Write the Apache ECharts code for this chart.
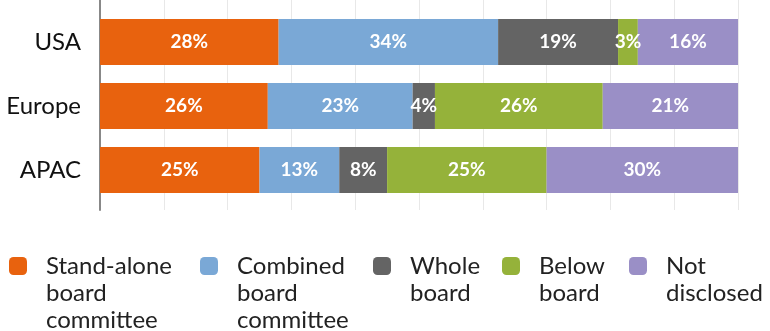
<!DOCTYPE html>
<html>
<head>
<meta charset="utf-8">
<script src="https://cdn.jsdelivr.net/npm/echarts@6/dist/echarts.min.js"></script>
<style>html,body{margin:0;padding:0;background:#fff}#c{width:770px;height:331px}</style>
</head>
<body>
<div id="c"></div>
<script>
var categories = ['USA', 'Europe', 'APAC'];
var seriesNames = ['Stand-alone\nboard\ncommittee', 'Combined\nboard\ncommittee', 'Whole\nboard', 'Below\nboard', 'Not\ndisclosed'];
var standAlone = [28, 26.3, 25];
var combined = [34.4, 22.7, 12.5];
var whole = [18.8, 3.5, 7.5];
var below = [3.1, 26.3, 25];
var notDisclosed = [15.7, 21.2, 30];
var colors = ['#E8620E', '#7AA8D6', '#646464', '#95B23A', '#9A8FC6'];

var FONT = 'Lato';
var LH = 27;
var allData = [standAlone, combined, whole, below, notDisclosed];

var series = allData.map(function (d, i) {
  return {
    name: seriesNames[i],
    type: 'bar',
    stack: 'total',
    xAxisIndex: 0,
    yAxisIndex: 0,
    barWidth: 46,
    data: d,
    itemStyle: { color: colors[i] },
    label: {
      show: true,
      position: 'inside',
      color: '#fff',
      fontFamily: FONT,
      fontWeight: 'bold',
      fontSize: 19,
      formatter: function (p) { return Math.round(p.value) + '%'; }
    }
  };
});

var legendLeft = [9, 200, 373, 502, 629];
var legends = seriesNames.map(function (n, i) {
  var parts = n.split('\n');
  var lines = parts.length;
  var total = 2 * lines - 1;
  return {
    data: [{ name: n, icon: 'roundRect' }],
    left: legendLeft[i],
    top: 266 - total * LH / 2,
    padding: 0,
    itemWidth: 18,
    itemHeight: 18,
    itemGap: 19,
    selectedMode: false,
    formatter: function () {
      return new Array(lines).join('\n') + parts.map(function (p) { return '{t|' + p + '}'; }).join('\n');
    },
    textStyle: {
      fontFamily: FONT,
      fontSize: 24,
      lineHeight: LH,
      color: '#222',
      rich: {
        t: { fontFamily: FONT, fontSize: 24, lineHeight: LH, color: '#222', padding: [0, 0, 0, 14] }
      }
    }
  };
});

var chart = echarts.init(document.getElementById('c'), null, { renderer: 'canvas' });
chart.setOption({
  animation: false,
  color: colors,
  legend: legends,
  grid: [
    { left: 100, right: 32, top: 10, height: 192 },
    { left: 100, right: 32, top: 0, height: 210 }
  ],
  xAxis: [
    { gridIndex: 0, type: 'value', min: 0, max: 100, show: false },
    { gridIndex: 1, type: 'value', min: 0, max: 100, interval: 10,
      axisLine: { show: false }, axisTick: { show: false }, axisLabel: { show: false },
      splitLine: { show: true, lineStyle: { color: '#e8e8e8', width: 1 } } }
  ],
  yAxis: [
    { gridIndex: 0, type: 'category', data: categories, inverse: true,
      axisLine: { show: false }, axisTick: { show: false },
      axisLabel: { color: '#111', fontFamily: FONT, fontSize: 24, margin: 19 } },
    { gridIndex: 1, type: 'category', data: categories, inverse: true,
      axisLine: { show: true, lineStyle: { color: '#888', width: 2 } },
      axisTick: { show: false }, axisLabel: { show: false }, splitLine: { show: false } }
  ],
  series: series
});
</script>
</body>
</html>
